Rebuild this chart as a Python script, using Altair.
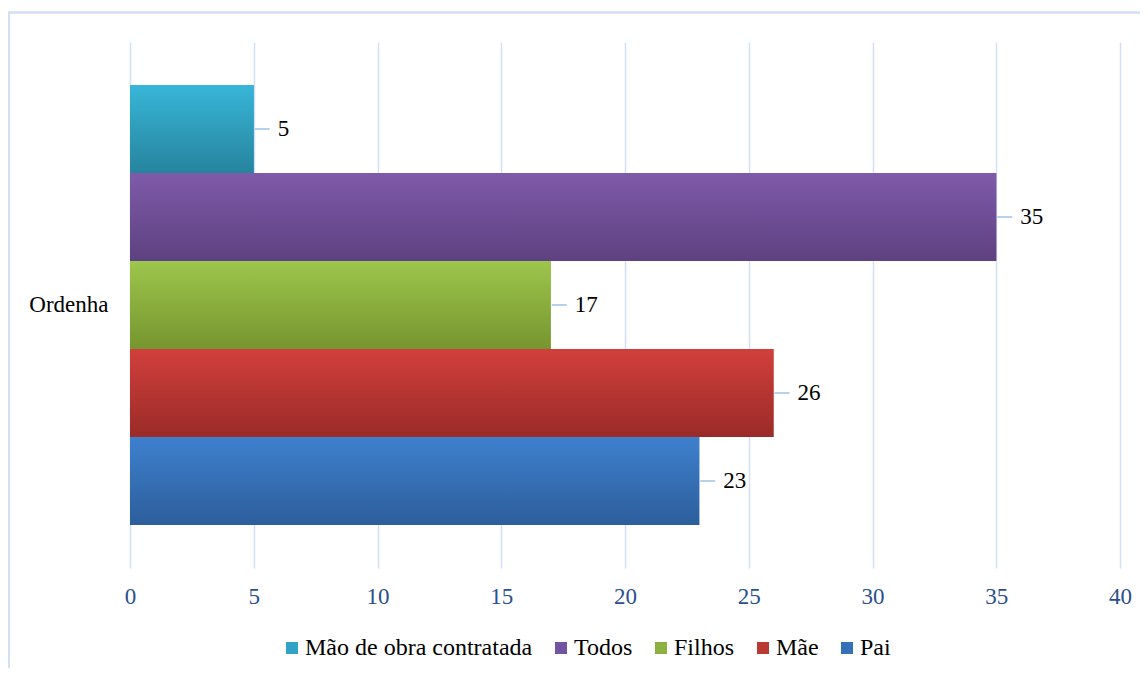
import altair as alt
import pandas as pd

# ---- data ----
categories = ["Ordenha"]
series = ["Mão de obra contratada", "Todos", "Filhos", "Mãe", "Pai"]
values = [5, 35, 17, 26, 23]
x_ticks = [0, 5, 10, 15, 20, 25, 30, 35, 40]

colors_mid = ["#31A3C4", "#7255A0", "#8DB043", "#BA3935", "#3670B6"]
colors_top = ["#38B6D8", "#7F5AA9", "#9DC64C", "#D13F3C", "#3E80CE"]
colors_bottom = ["#26849D", "#5E4180", "#76952F", "#9A2B28", "#2C5E9B"]

df = pd.DataFrame({
    "categoria": [categories[0]] * len(series),
    "serie": series,
    "valor": values,
})

FONT = "'Liberation Serif', 'Times New Roman', 'DejaVu Serif', serif"

y_enc = alt.Y(
    "categoria:N",
    title=None,
    scale=alt.Scale(paddingInner=0, paddingOuter=0.0977),
    axis=alt.Axis(domain=False, ticks=False, grid=False, labelPadding=22,
                  labelFont=FONT, labelFontSize=23, labelColor="#000000"),
)
yoff_enc = alt.YOffset(
    "serie:N", sort=series,
    scale=alt.Scale(domain=series, paddingInner=0, paddingOuter=0),
)
x_enc = alt.X(
    "valor:Q",
    title=None,
    scale=alt.Scale(domain=[0, 40], nice=False),
    axis=alt.Axis(values=x_ticks, domain=False, ticks=False, grid=True,
                  gridColor="#D3E0F1", gridWidth=1.5, labelPadding=17,
                  labelFlush=False, labelBound=False, labelOverlap=False,
                  labelFont=FONT, labelFontSize=23, labelColor="#2A4F8C"),
)

base = alt.Chart(df)

frame = base.mark_rect(filled=False, stroke="#D3E0F1", strokeWidth=1.5).encode(
    x=alt.value(-121.25), x2=alt.value(1300),
    y=alt.value(-29.5), y2=alt.value(900),
)

solid = base.mark_bar(strokeWidth=0).encode(
    x=x_enc, y=y_enc, yOffset=yoff_enc,
    color=alt.Color(
        "serie:N", sort=series,
        scale=alt.Scale(domain=series, range=colors_mid),
        legend=alt.Legend(orient="none", legendX=150, legendY=594,
                          direction="horizontal", title=None,
                          symbolType="square", symbolSize=144,
                          symbolStrokeWidth=0, labelFont=FONT,
                          labelFontSize=24, labelColor="#000000",
                          labelLimit=400, labelOffset=1, columnPadding=16,
                          padding=0),
    ),
)

grad_layers = []
for s, ct, cb in zip(series, colors_top, colors_bottom):
    g = alt.LinearGradient(
        gradient="linear",
        stops=[alt.GradientStop(color=ct, offset=0),
               alt.GradientStop(color=cb, offset=1)],
        x1=0, x2=0, y1=0, y2=1,
    )
    grad_layers.append(
        base.transform_filter(alt.datum.serie == s)
        .mark_bar(fill=g, strokeWidth=0)
        .encode(x=x_enc, y=y_enc, yOffset=yoff_enc)
    )

leaders = base.mark_rule(color="#9DC3E6", strokeWidth=1.5, xOffset=1, x2Offset=16).encode(
    x=x_enc, x2="valor:Q", y=y_enc, yOffset=yoff_enc,
)

labels = base.mark_text(align="left", baseline="middle", dx=24, font=FONT,
                        fontSize=23, color="#000000").encode(
    x=x_enc, y=y_enc, yOffset=yoff_enc, text="valor:Q",
)

chart = alt.layer(frame, solid, *grad_layers, leaders, labels).properties(
    width=990,
    height=526,
    autosize=alt.AutoSizeParams(type="none"),
    padding={"left": 122, "top": 34, "right": 20, "bottom": 100},
    background="#FFFFFF",
).configure_view(stroke=None)

chart.save("out.html", embed_options={"renderer": "svg", "actions": False})
